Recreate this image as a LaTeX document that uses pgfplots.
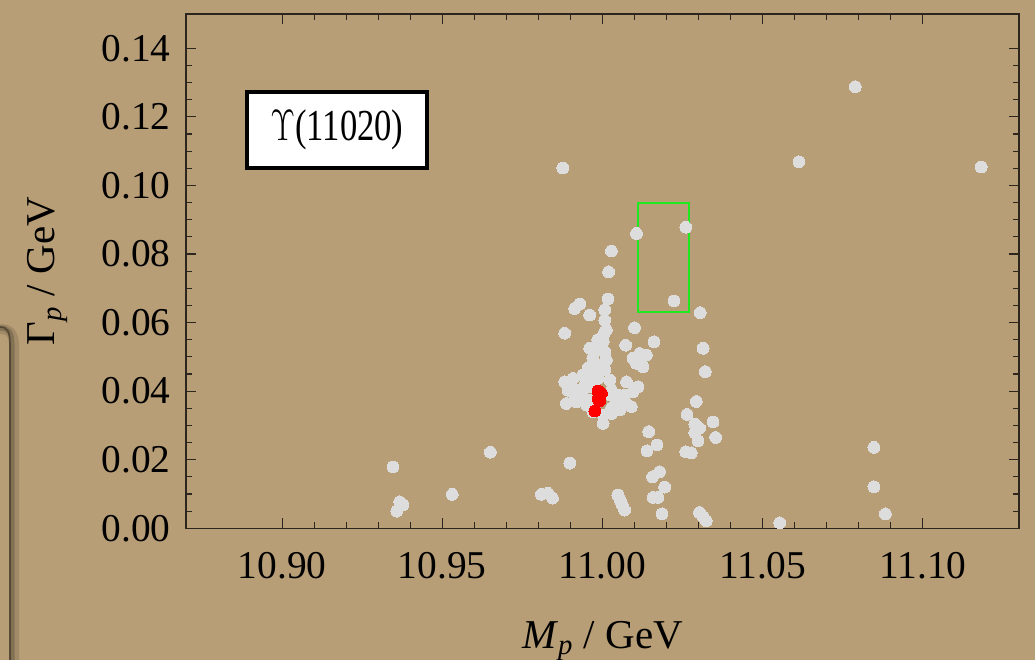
\documentclass[border=0pt]{standalone}
\usepackage{fontspec}
\setmainfont{Liberation Serif}
\usepackage{graphicx}
\usepackage{pgfplots}
\pgfplotsset{compat=1.18}
\definecolor{paper}{RGB}{184,158,118}
\definecolor{dot}{RGB}{221,221,221}
\definecolor{frame}{RGB}{45,38,30}
\definecolor{boxgreen}{RGB}{30,232,30}

% pole positions (mass, width) in GeV
\pgfplotstableread{
x y
10.9876 0.1051
10.9346 0.0179
10.9367 0.0077
10.9377 0.0068
10.9358 0.0050
10.9531 0.0099
10.9650 0.0222
10.9809 0.0099
10.9830 0.0102
10.9844 0.0088
10.9898 0.0190
11.0106 0.0860
11.0260 0.0878
11.0028 0.0809
11.0019 0.0748
11.0223 0.0663
11.0305 0.0629
11.0017 0.0669
11.0007 0.0637
10.9929 0.0654
10.9913 0.0641
10.9960 0.0622
10.9882 0.0569
11.0007 0.0607
11.0012 0.0578
11.0002 0.0559
11.0100 0.0585
11.0161 0.0544
11.0072 0.0534
11.0314 0.0525
11.0116 0.0510
11.0095 0.0496
11.0137 0.0505
11.0106 0.0481
11.0126 0.0471
11.0321 0.0457
11.0075 0.0427
11.0111 0.0413
11.0095 0.0398
11.0293 0.0370
11.0264 0.0332
11.0288 0.0304
11.0303 0.0292
11.0288 0.0279
11.0298 0.0255
11.0345 0.0310
11.0353 0.0265
11.0144 0.0282
11.0170 0.0243
11.0139 0.0226
11.0260 0.0223
11.0277 0.0220
11.0178 0.0165
11.0156 0.0150
11.0194 0.0120
11.0173 0.0090
11.0158 0.0090
11.0186 0.0042
11.0048 0.0097
11.0055 0.0083
11.0062 0.0068
11.0069 0.0053
11.0303 0.0046
11.0314 0.0034
11.0324 0.0022
11.0553 0.0016
11.0789 0.1288
11.0613 0.1069
11.1182 0.1054
11.0847 0.0236
11.0847 0.0121
11.0883 0.0042
11.0007 0.0573
11.0002 0.0544
10.9960 0.0525
11.0007 0.0515
10.9970 0.0496
11.0012 0.0491
10.9955 0.0467
11.0007 0.0462
10.9939 0.0447
10.9986 0.0437
11.0023 0.0432
11.0028 0.0403
10.9960 0.0413
10.9882 0.0427
10.9908 0.0437
10.9892 0.0403
10.9924 0.0403
10.9939 0.0384
10.9887 0.0364
10.9919 0.0369
10.9950 0.0360
11.0043 0.0369
11.0069 0.0369
11.0090 0.0355
11.0054 0.0345
11.0028 0.0335
11.0002 0.0330
11.0002 0.0306
10.9970 0.0340
11.0048 0.0389
10.9985 0.0389
10.9979 0.0476
10.9991 0.0520
10.9985 0.0550
10.9966 0.0432
10.9976 0.0447
10.9945 0.0418
10.9913 0.0389
11.0023 0.0389
10.9960 0.0374
10.9985 0.0476
11.0029 0.0351
11.0069 0.0389
}\allpoles

% poles selected by the fit
\pgfplotstableread{
x y
10.9986 0.0400
10.9997 0.0394
10.9986 0.0377
10.9991 0.0371
10.9976 0.0342
}\bestpoles

\begin{document}
\begin{tikzpicture}
\fill[paper] (0,0) rectangle (517.5bp,330bp);
% edge of the sheet underneath
\draw[black, opacity=0.12, line width=5bp] (0,165.5bp) .. controls (4.5bp,165.5bp) and (7bp,163.5bp) .. (7bp,157bp) -- (7bp,-3bp);
\draw[black, opacity=0.18, line width=2.5bp] (0,166bp) .. controls (4bp,166bp) and (6bp,164bp) .. (6bp,158bp) -- (6bp,-3bp);
\draw[black!65!paper, opacity=0.7, line width=0.8bp] (0,166.5bp) .. controls (3.5bp,166.5bp) and (5bp,164.5bp) .. (5bp,158bp) -- (5bp,-3bp);

\begin{axis}[
  at={(93bp,65.85bp)}, anchor=south west,
  width=416.5bp, height=257.15bp, scale only axis,
  xmin=10.87, xmax=11.13, ymin=0, ymax=0.15,
  xtick={10.90,10.95,11.00,11.05,11.10},
  ytick={0,0.02,0.04,0.06,0.08,0.10,0.12,0.14},
  minor x tick num=4, minor y tick num=3,
  tick align=inside,
  major tick length=5bp, minor tick length=3bp,
  axis line style={frame, line width=0.7bp},
  every tick/.style={frame, line width=0.6bp},
  tick label style={font=\fontsize{19.7bp}{20bp}\selectfont,
    /pgf/number format/assume math mode=true,
    /pgf/number format/fixed,
    /pgf/number format/fixed zerofill,
    /pgf/number format/precision=2},
  xticklabel style={anchor=base, yshift=-25bp},
  yticklabel style={anchor=east, inner sep=0pt, xshift=-7.5bp},
  xlabel={\textit{M}\textsubscript{\textit{p}} / GeV},
  ylabel={Γ\textsubscript{\textit{p}} / GeV},
  label style={font=\fontsize{20.5bp}{22bp}\selectfont},
  xlabel style={at={(axis description cs:0.5,-0.2330)}, anchor=base},
  ylabel style={at={(axis description cs:-0.1573,0.5)}, anchor=base},
]
\addplot[only marks, color=dot, mark=*, mark size=2.95bp, mark options={draw=dot, fill=dot, line width=0pt}] table {\allpoles};
\addplot[only marks, color=red, mark=*, mark size=2.95bp, mark options={draw=red, fill=red, line width=0pt}] table {\bestpoles};
\draw[boxgreen, line width=1bp] (axis cs:11.011,0.063) rectangle (axis cs:11.027,0.095);
\node[draw=black, line width=2bp, fill=white, minimum width=90bp, minimum height=38bp, inner sep=0pt]
  at (axis cs:10.9171,0.1161)
  {\scalebox{1}[1.28]{\fontsize{17.3bp}{18bp}\selectfont$\Upsilon$(11020)}};
\end{axis}
\pgfresetboundingbox
\path[use as bounding box] (0,0) rectangle (517.5bp,330bp);
\end{tikzpicture}
\end{document}
